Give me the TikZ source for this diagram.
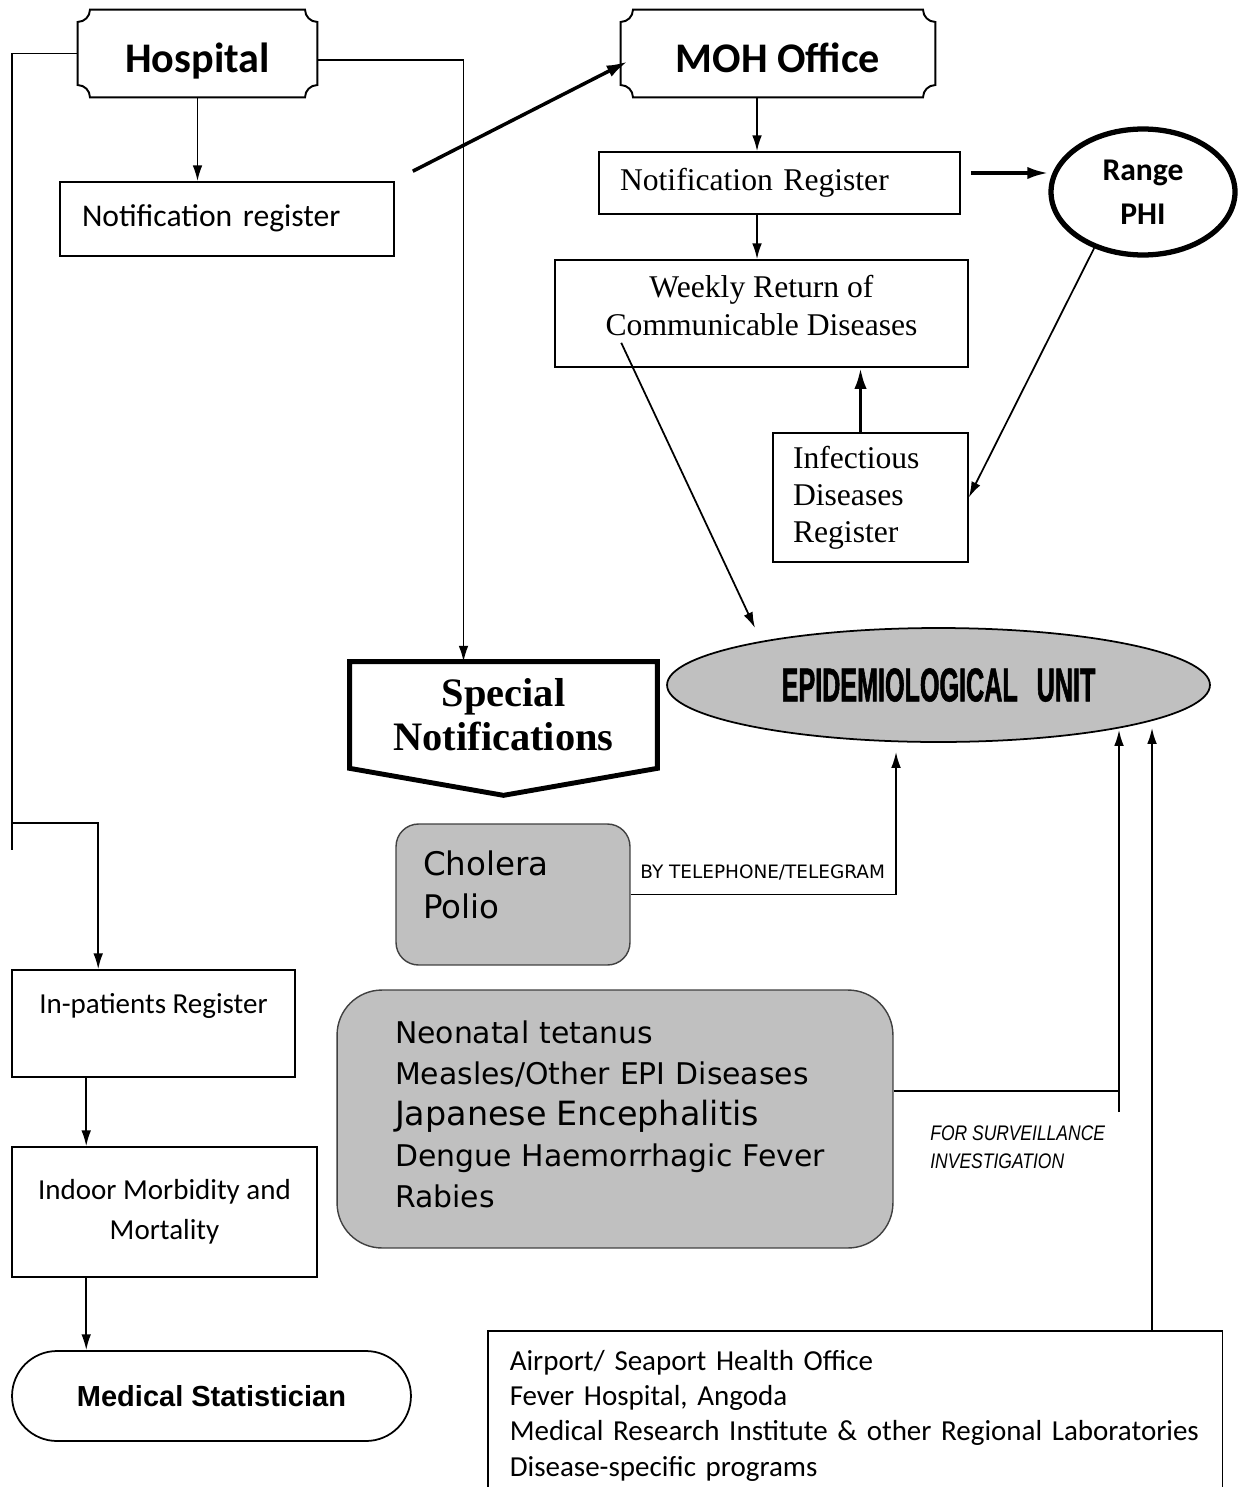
\documentclass[tikz,border=0pt]{standalone}
\usepackage{fontspec}
\setmainfont{Carlito}
\newfontfamily\timesfont{Liberation Serif}
\newfontfamily\arialfont{Liberation Sans}
\newfontfamily\verdfont{DejaVu Sans}
\newfontfamily\epifont[FakeStretch=0.53,FakeBold=1.2]{Liberation Sans}
\newfontfamily\narrowfont[FakeStretch=0.83]{Liberation Sans}
\usepackage{tikz}
\usetikzlibrary{arrows.meta,positioning,calc,shapes.geometric,shapes.misc}
\definecolor{boxgray}{RGB}{192,192,192}
\newcommand{\fsz}[2]{\fontsize{#1}{#2}\selectfont}
\newcommand{\plaque}[2]{%
  \draw[line width=1.1pt]
    ([xshift=#2]#1.north west) -- ([xshift=-#2]#1.north east)
    .. controls ([xshift=-#2,yshift=-0.55*#2]#1.north east) and ([xshift=-0.55*#2,yshift=-#2]#1.north east) .. ([yshift=-#2]#1.north east)
    -- ([yshift=#2]#1.south east)
    .. controls ([xshift=-0.55*#2,yshift=#2]#1.south east) and ([xshift=-#2,yshift=0.55*#2]#1.south east) .. ([xshift=-#2]#1.south east)
    -- ([xshift=#2]#1.south west)
    .. controls ([xshift=#2,yshift=0.55*#2]#1.south west) and ([xshift=0.55*#2,yshift=#2]#1.south west) .. ([yshift=#2]#1.south west)
    -- ([yshift=-#2]#1.north west)
    .. controls ([xshift=0.55*#2,yshift=-#2]#1.north west) and ([xshift=#2,yshift=-0.55*#2]#1.north west) .. cycle;}

\begin{document}
\begin{tikzpicture}[x=0.02cm, y=-0.02cm,
  box/.style={draw, line width=0.9pt, inner sep=0pt},
  plaq/.style={inner sep=0pt, minimum width=#1, minimum height=1.74cm, text height=28pt, text depth=6pt, font=\fsz{24}{28}\bfseries},
  graybox/.style={draw=black!75, fill=boxgray, line width=0.8pt, align=left},
  arr/.style={-{Latex[length=9pt,width=5.5pt]}, line width=1pt},
  bigarr/.style={-{Latex[length=12pt,width=7pt]}, line width=2pt}
]
\useasboundingbox (0,0) rectangle (1246,1487);

\node[plaq=4.78cm] (hosp) at (197.5,53.5) {Hospital};
\node[plaq=6.28cm] (moh) at (778,53.5) {MOH Office};
\plaque{hosp}{7pt}
\plaque{moh}{7pt}

\node[box, minimum width=6.68cm, minimum height=1.48cm, text width=5.8cm, inner xsep=0.44cm, align=left, font=\fsz{18}{22}] (nreg) at (227,219) {Notification register\\[-18.5pt]\mbox{}};
\node[box, minimum width=7.22cm, minimum height=1.24cm, text width=6.38cm, inner xsep=0.42cm, align=left, font=\timesfont\fsz{18}{22}] (mreg) at (779.5,183) {Notification Register};
\node[ellipse, draw, line width=3pt, minimum width=3.68cm, minimum height=2.52cm, inner sep=0pt, align=center, font=\fsz{18}{25}\bfseries] (range) at (1143,192) {Range\\PHI};
\node[box, minimum width=8.26cm, minimum height=2.14cm, align=center, font=\timesfont\fsz{18}{21.5}] (weekly) at (761.5,313.5) {Weekly Return of\\Communicable Diseases\\[-12pt]\mbox{}};
\node[box, minimum width=3.9cm, minimum height=2.58cm, text width=3.1cm, inner xsep=0.4cm, align=left, font=\timesfont\fsz{18}{21}] (infect) at (870.5,497.5) {Infectious\\Diseases\\Register};

\node[ellipse, draw, line width=1pt, fill=boxgray, minimum width=10.86cm, minimum height=2.28cm, inner sep=0pt, font=\epifont\bfseries\fsz{27}{30}] (epi) at (938.5,685) {EPIDEMIOLOGICAL\hspace{0.4em}UNIT};

\node[minimum width=6.14cm, minimum height=2.12cm, inner sep=0pt, align=center, font=\timesfont\bfseries\fsz{23}{25}] (spec) at (503.5,715) {Special\\Notifications};
\draw[line width=2.8pt] (spec.north west) -- (spec.north east) -- (spec.south east) -- ([yshift=-0.54cm]spec.south) -- (spec.south west) -- cycle;

\node[graybox, rounded corners=0.45cm, minimum width=4.68cm, minimum height=2.82cm, text width=3.6cm, inner xsep=0.54cm, font=\verdfont\fsz{18.5}{24.4}] (chol) at (513,894.5) {Cholera\\Polio\\[-13pt]\mbox{}};
\node[graybox, rounded corners=0.9cm, minimum width=11.12cm, minimum height=5.16cm, text width=8.8cm, inner xsep=1.16cm, font=\verdfont\fsz{17}{23.4}] (epil) at (615,1119) {Neonatal tetanus\\Measles/Other EPI Diseases\\{\fsz{19}{23.4}Japanese Encephalitis}\\Dengue Haemorrhagic Fever\\Rabies\\[-18pt]\mbox{}};

\node[box, anchor=north west, minimum height=3.4cm, text width=13.82cm, inner xsep=0.44cm, align=left, font=\fsz{16.5}{20}] (labs) at (487,1330) {Airport/ Seaport Health Office\\Fever Hospital, Angoda\\Medical Research Institute \& other Regional Laboratories\\Disease-specific programs};

\node[box, minimum width=5.66cm, minimum height=2.14cm, align=center, font=\fsz{16.5}{23}] (inp) at (153.5,1023.5) {In-patients Register\\\mbox{}};
\node[box, minimum width=6.1cm, minimum height=2.6cm, align=center, font=\fsz{16.5}{23}] (indoor) at (164.5,1212) {Indoor Morbidity and\\Mortality};
\node[rounded rectangle, draw, line width=1pt, minimum width=7.98cm, minimum height=1.8cm, inner sep=0pt, font=\arialfont\bfseries\fsz{16.5}{20}] (stat) at (211.5,1396) {Medical Statistician};

\node[anchor=base west, inner sep=0pt, font=\verdfont\fsz{10.5}{12}] (tellbl) at (640,878) {BY TELEPHONE/TELEGRAM};
\node[anchor=north west, inner sep=0pt, align=left, font=\narrowfont\itshape\fsz{12}{16}] (survlbl) at (930,1125) {FOR SURVEILLANCE\\INVESTIGATION};

\coordinate (lend) at (12,850);
\coordinate (lbr) at (12,823);
\coordinate (wend) at (755,628);
\coordinate (telend) at (896,752);
\coordinate (sv) at (1119,1112);
\coordinate (su1) at (1119,730);
\coordinate (su2) at (1152,728);

\draw[line width=1pt] (hosp.west) -- (hosp.west -| lend) -- (lend);
\draw[arr] (lbr) -| ([xshift=1.74cm]inp.north west);
\draw[arr] ([yshift=-0.13cm]hosp.east) -| ([xshift=-0.8cm]spec.north);
\draw[arr] (hosp.south) -- (hosp.south |- nreg.north);
\draw[bigarr] ([xshift=0.36cm,yshift=0.2cm]nreg.north east) -- ([xshift=0.14cm,yshift=-0.16cm]moh.west);
\draw[arr] ([xshift=-0.42cm]moh.south) coordinate (m1) -- (m1 |- mreg.north);
\draw[bigarr] ([xshift=0.2cm,yshift=0.2cm]mreg.east) coordinate (r1) -- (r1 -| range.west);
\draw[arr] ([xshift=-0.45cm]mreg.south) coordinate (m2) -- (m2 |- weekly.north);
\draw[bigarr] ([xshift=-0.2cm]infect.north) coordinate (i1) -- (i1 |- weekly.south);
\draw[arr] (range.-131) -- (infect.east);
\draw[arr] ([xshift=1.34cm,yshift=0.5cm]weekly.south west) -- (wend);
\draw[arr] (chol.east) -| (telend);
\draw[line width=1pt] ([yshift=0.56cm]epil.east) coordinate (e1) -- (e1 -| sv);
\draw[arr] (sv) -- (su1);
\draw[arr] (labs.north -| su2) -- (su2);
\draw[arr] ([xshift=1.5cm]inp.south west) coordinate (p1) -- (p1 |- indoor.north);
\draw[arr] ([xshift=1.5cm]indoor.south west) coordinate (p2) -- (p2 |- stat.north);
\end{tikzpicture}
\end{document}
